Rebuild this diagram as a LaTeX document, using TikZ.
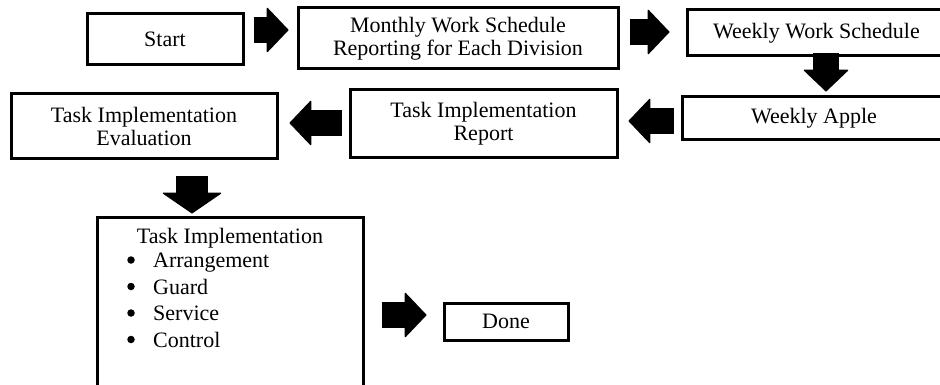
\documentclass[tikz,border=0pt]{standalone}
\usepackage{fontspec}
\setmainfont{Liberation Serif}
\usetikzlibrary{arrows.meta}

% Estilos: cajas con borde grueso y flechas de bloque negras
\tikzset{
  box/.style={draw, line width=3pt, align=center, inner sep=0pt, font=\fontsize{22}{23}\selectfont},
  itemtext/.style={inner sep=0pt, font=\fontsize{22}{23}\selectfont},
  bulletdot/.style={circle, fill, inner sep=0pt, minimum size=7.5pt},
  blockarrow/.style={line width=26pt, -{Triangle[length=22pt,width=46pt,line width=1.2pt,round]}},
  bigblockarrow/.style={line width=32pt, -{Triangle[length=21pt,width=61pt,line width=1.2pt,round]}}
}

\begin{document}
\begin{tikzpicture}[x=1pt, y=-1pt]
% Usamos pixeles como unidad, con el eje y hacia abajo
\useasboundingbox (0,0) rectangle (940,385);

% Primera fila
\node[box, minimum width=156pt, minimum height=51pt] (start) at (165,39.5) {Start};
\node[box, minimum width=320pt, minimum height=61pt] (monthly) at (458,38.5) {Monthly Work Schedule\\Reporting for Each Division};
\node[box, minimum width=259pt, minimum height=46pt] (weekly) at (816.5,33) {Weekly Work Schedule};

% Segunda fila (de derecha a izquierda)
\node[box, minimum width=264pt, minimum height=43pt] (apple) at (814,118.5) {Weekly Apple};
\node[box, minimum width=267pt, minimum height=68pt] (report) at (483.5,124) {Task Implementation\\Report};
\node[box, minimum width=266pt, minimum height=65pt] (evaluation) at (144,126.5) {Task Implementation\\Evaluation};

% Caja grande con la lista; se sale por abajo del dibujo
\node[box, minimum width=266pt, minimum height=180pt] (impl) at (230,307) {};
\node[itemtext, anchor=base] (impltitle) at (230,243) {Task Implementation};
\foreach \word [count=\i] in {Arrangement,Guard,Service,Control} {
  \node[bulletdot] (bullet\i) at (131,233.5+26.5*\i) {};
  \node[itemtext, anchor=base west] (item\i) at (153,241+26.5*\i) {\word};
}

\node[box, minimum width=124pt, minimum height=37pt] (done) at (506,321.5) {Done};

% Flechas entre las cajas
\draw[blockarrow, shorten <=9pt, shorten >=8pt] ([yshift=9.5pt]start.east) -- ([yshift=8.5pt]monthly.west);
\draw[blockarrow, shorten <=10pt, shorten >=16pt] ([yshift=6.5pt]monthly.east) -- ([yshift=1pt]weekly.west);
\draw[blockarrow, shorten <=-4pt, shorten >=4pt] ([xshift=9.5pt]weekly.south) -- ([xshift=12pt]apple.north);
\draw[blockarrow, shorten <=7pt, shorten >=10pt] ([yshift=-2.5pt]apple.west) -- ([yshift=3pt]report.east);
\draw[blockarrow, shorten <=7pt, shorten >=11pt] ([yshift=1pt]report.west) -- ([yshift=3.5pt]evaluation.east);
\draw[bigblockarrow, shorten <=16pt, shorten >=2pt] ([xshift=48pt]evaluation.south) -- ([xshift=-38pt]impl.north);
\draw[blockarrow, shorten <=17pt, shorten >=16pt] ([yshift=-8pt]impl.east) -- ([yshift=6.5pt]done.west);
\end{tikzpicture}
\end{document}
